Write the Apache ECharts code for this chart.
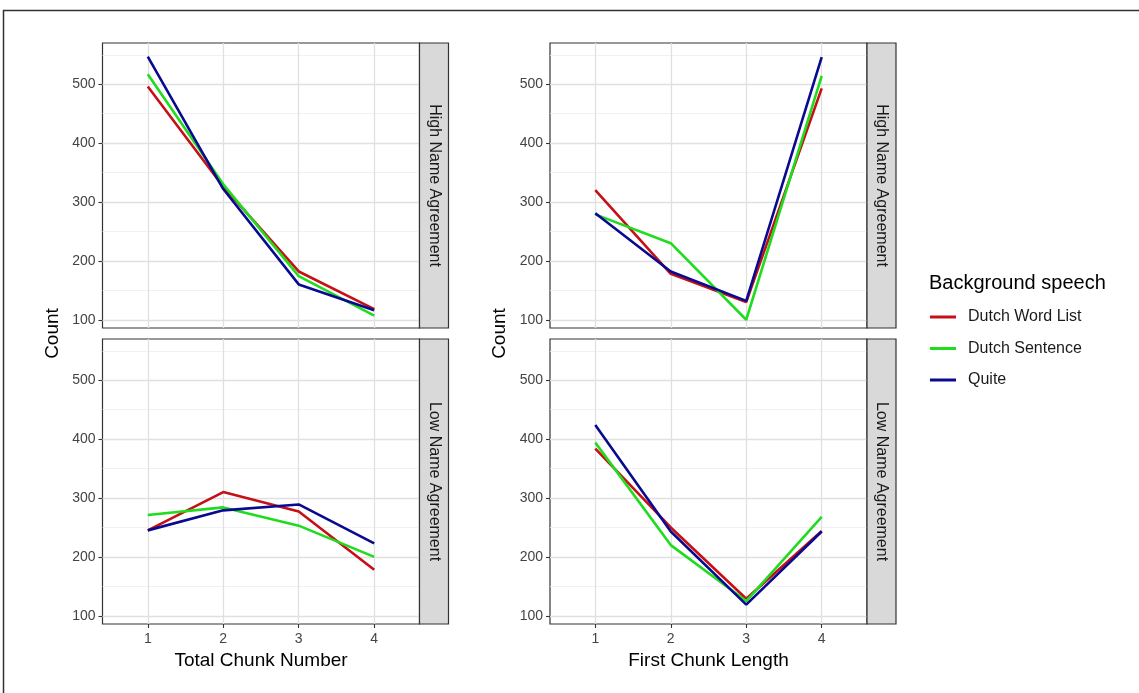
<!DOCTYPE html>
<html><head><meta charset="utf-8">
<script src="https://cdn.jsdelivr.net/npm/echarts@6/dist/echarts.min.js"></script>
<style>html,body{margin:0;padding:0;background:#fff}#c{width:1139px;height:693px}</style>
</head><body><div id="c"></div>
<script>
// ---- data ----
const xValues = [1, 2, 3, 4];
const seriesNames = ['Dutch Word List', 'Dutch Sentence', 'Quite'];
// Total Chunk Number
const tcnHighWordList = [496, 326, 182, 118];
const tcnHighSentence = [517, 330, 174, 107];
const tcnHighQuite    = [547, 322, 160, 116];
const tcnLowWordList  = [245, 310, 277, 178];
const tcnLowSentence  = [271, 284, 253, 200];
const tcnLowQuite     = [245, 279, 289, 223];
// First Chunk Length
const fclHighWordList = [320, 178, 130, 493];
const fclHighSentence = [279, 230, 100, 514];
const fclHighQuite    = [281, 182, 132, 546];
const fclLowWordList  = [384, 250, 129, 244];
const fclLowSentence  = [394, 220, 125, 268];
const fclLowQuite     = [424, 243, 119, 243];
const yTickLabels = [100, 200, 300, 400, 500];
const yMinorGrid = [150, 250, 350, 450, 550];
const stripLabels = ['High Name Agreement', 'Low Name Agreement'];
const xTitles = ['Total Chunk Number', 'First Chunk Length'];
const yTitle = 'Count';
const legendTitle = 'Background speech';

// ---- layout / style ----
const colors = ['#c41016', '#1fdc1f', '#0a0a90'];
const FONT = '"Liberation Sans", Arial, sans-serif';
const PW = 317, PH = 285;
const gridsLayout = [
  { left: 102.5, top: 43 },
  { left: 102.5, top: 339 },
  { left: 550, top: 43 },
  { left: 550, top: 339 }
];
const panelData = [
  [tcnHighWordList, tcnHighSentence, tcnHighQuite],
  [tcnLowWordList, tcnLowSentence, tcnLowQuite],
  [fclHighWordList, fclHighSentence, fclHighQuite],
  [fclLowWordList, fclLowSentence, fclLowQuite]
];

const grid = gridsLayout.map(g => ({
  left: g.left, top: g.top, width: PW, height: PH,
  show: true, backgroundColor: '#fff', borderColor: '#333', borderWidth: 1.2,
  containLabel: false
}));

const xAxis = gridsLayout.map((g, i) => ({
  type: 'value', gridIndex: i, min: 0.4, max: 4.6,
  axisLine: { show: false },
  splitLine: { show: false },
  axisTick: { show: i % 2 === 1, length: 4, lineStyle: { color: '#333', width: 1.1 }, customValues: xValues },
  axisLabel: { show: i % 2 === 1, customValues: xValues, color: '#444', fontSize: 14, fontFamily: FONT, margin: 8 }
}));

const yAxis = gridsLayout.map((g, i) => ({
  type: 'value', gridIndex: i, min: 86, max: 570,
  axisLine: { show: false },
  splitLine: { show: false },
  axisTick: { show: true, length: 4, lineStyle: { color: '#333', width: 1.1 }, customValues: yTickLabels },
  axisLabel: { show: true, customValues: yTickLabels, color: '#444', fontSize: 14, fontFamily: FONT, margin: 7 }
}));

const gridLines = [];
yMinorGrid.forEach(v => gridLines.push({ yAxis: v, lineStyle: { color: '#eeeeee', width: 0.8, type: 'solid' } }));
yTickLabels.forEach(v => gridLines.push({ yAxis: v, lineStyle: { color: '#e0e0e0', width: 1.3, type: 'solid' } }));
xValues.forEach(v => gridLines.push({ xAxis: v, lineStyle: { color: '#e0e0e0', width: 1.3, type: 'solid' } }));

const series = [];
panelData.forEach((arrs, gi) => {
  arrs.forEach((arr, si) => {
    const s = {
      name: seriesNames[si], type: 'line', xAxisIndex: gi, yAxisIndex: gi,
      data: xValues.map((x, j) => [x, arr[j]]),
      showSymbol: false, symbol: 'none',
      lineStyle: { color: colors[si], width: 2.6 },
      itemStyle: { color: colors[si] },
      z: 3 + si, animation: false, silent: true
    };
    if (si === 0) {
      s.markLine = { silent: true, symbol: ['none', 'none'], z: 1, animation: false,
        label: { show: false }, emphasis: { disabled: true }, data: gridLines };
    }
    series.push(s);
  });
});

// strips, titles
const graphic = [];
graphic.push({ type: 'rect', silent: true, z: 0,
  shape: { x: 3.5, y: 10.5, width: 1200, height: 800 },
  style: { fill: 'none', stroke: '#333', lineWidth: 1.5 } });
gridsLayout.forEach((g, i) => {
  const sx = g.left + PW, sy = g.top;
  graphic.push({ type: 'rect', silent: true, z: 10,
    shape: { x: sx, y: sy, width: 29, height: PH },
    style: { fill: '#d9d9d9', stroke: '#333', lineWidth: 1.2 } });
  graphic.push({ type: 'text', silent: true, z: 11,
    x: sx + 14.5, y: sy + PH / 2, rotation: -Math.PI / 2,
    style: { text: stripLabels[i % 2], fill: '#1a1a1a', font: '16px ' + FONT, align: 'center', verticalAlign: 'middle' } });
});
[0, 2].forEach((gi, k) => {
  const g = gridsLayout[gi];
  graphic.push({ type: 'text', silent: true, z: 11,
    x: g.left - 50, y: (g.top + gridsLayout[gi + 1].top + PH) / 2, rotation: Math.PI / 2,
    style: { text: yTitle, fill: '#000', font: '19px ' + FONT, align: 'center', verticalAlign: 'middle' } });
  graphic.push({ type: 'text', silent: true, z: 11,
    x: g.left + PW / 2, y: 661,
    style: { text: xTitles[k], fill: '#000', font: '19px ' + FONT, align: 'center', verticalAlign: 'middle' } });
});
graphic.push({ type: 'text', silent: true, z: 11, x: 929, y: 283,
  style: { text: legendTitle, fill: '#000', font: '20px ' + FONT, align: 'left', verticalAlign: 'middle' } });

const option = {
  backgroundColor: '#fff',
  animation: false,
  grid, xAxis, yAxis, series, graphic,
  legend: {
    data: seriesNames, orient: 'vertical', left: 925, top: 304,
    icon: 'rect', itemWidth: 26, itemHeight: 3, itemGap: 15.5,
    selectedMode: false,
    textStyle: { color: '#1a1a1a', fontSize: 16, fontFamily: FONT, lineHeight: 16, padding: [0, 0, 0, 7] }
  }
};
const chart = echarts.init(document.getElementById('c'), null, { renderer: 'canvas' });
chart.setOption(option);
</script></body></html>
